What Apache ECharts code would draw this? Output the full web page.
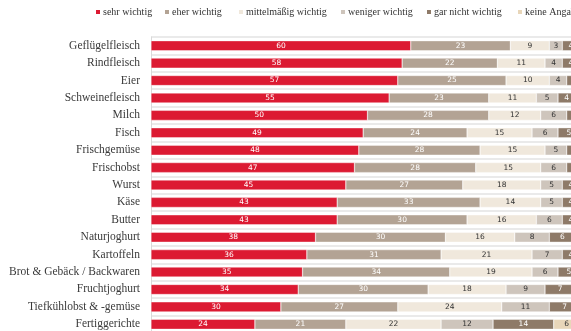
<!DOCTYPE html>
<html>
<head>
<meta charset="utf-8">
<script src="https://cdn.jsdelivr.net/npm/echarts@6/dist/echarts.min.js"></script>
<style>
    html, body { margin: 0; padding: 0; background: #fff; }
    #chart { width: 571px; height: 331px; }
</style>
</head>
<body>
<div id="chart"></div>
<script>
    var categories = ['Geflügelfleisch', 'Rindfleisch', 'Eier', 'Schweinefleisch', 'Milch', 'Fisch',
        'Frischgemüse', 'Frischobst', 'Wurst', 'Käse', 'Butter', 'Naturjoghurt', 'Kartoffeln',
        'Brot & Gebäck / Backwaren', 'Fruchtjoghurt', 'Tiefkühlobst & -gemüse', 'Fertiggerichte'];

    var sehrWichtig = [60, 58, 57, 55, 50, 49, 48, 47, 45, 43, 43, 38, 36, 35, 34, 30, 24];
    var eherWichtig = [23, 22, 25, 23, 28, 24, 28, 28, 27, 33, 30, 30, 31, 34, 30, 27, 21];
    var mittelWichtig = [9, 11, 10, 11, 12, 15, 15, 15, 18, 14, 16, 16, 21, 19, 18, 24, 22];
    var wenigerWichtig = [3, 4, 4, 5, 6, 6, 5, 6, 5, 5, 6, 8, 7, 6, 9, 11, 12];
    var garNichtWichtig = [4, 4, 3, 4, 3, 5, 3, 3, 4, 4, 4, 6, 4, 5, 7, 7, 14];
    var keineAngabe = [1, 1, 1, 2, 1, 1, 1, 1, 1, 1, 1, 2, 1, 1, 2, 1, 6];

    var seriesDefs = [
        { name: 'sehr wichtig', data: sehrWichtig, color: '#dc1a32', label: '#ffffff' },
        { name: 'eher wichtig', data: eherWichtig, color: '#b3a394', label: '#ffffff' },
        { name: 'mittelmäßig wichtig', data: mittelWichtig, color: '#f0e8dc', label: '#333333' },
        { name: 'weniger wichtig', data: wenigerWichtig, color: '#cec5bc', label: '#333333' },
        { name: 'gar nicht wichtig', data: garNichtWichtig, color: '#8e7a68', label: '#ffffff' },
        { name: 'keine Angabe', data: keineAngabe, color: '#e8d6b9', label: '#333333' }
    ];

    // x position of each legend item, as in the original layout
    var legendLeft = [94, 163, 237, 339, 425, 516];

    var chart = echarts.init(document.getElementById('chart'));

    var option = {
        animation: false,
        legend: seriesDefs.map(function (s, i) {
            return {
                left: legendLeft[i],
                top: 7,
                padding: 0,
                itemWidth: 6,
                itemHeight: 6,
                icon: 'rect',
                textStyle: { fontFamily: 'Liberation Serif', fontSize: 10, color: '#333', padding: [0, 0, 0, -3] },
                data: [s.name]
            };
        }),
        grid: { left: 151, top: 37, width: 433, height: 296, outerBoundsMode: 'none' },
        xAxis: {
            type: 'value',
            min: 0,
            max: 100,
            show: false
        },
        yAxis: {
            type: 'category',
            inverse: true,
            data: categories,
            axisLine: { show: true, lineStyle: { color: '#d9d9d9', width: 1 } },
            axisTick: { show: false },
            splitLine: { show: true, lineStyle: { color: '#e3e3e3', width: 1.5 } },
            axisLabel: {
                fontFamily: 'Liberation Serif',
                fontSize: 11.5,
                color: '#3a3a3a',
                margin: 11
            }
        },
        series: seriesDefs.map(function (s) {
            return {
                name: s.name,
                type: 'bar',
                stack: 'total',
                barWidth: 10,
                data: s.data,
                itemStyle: { color: s.color, borderColor: '#fff', borderWidth: 0.4 },
                label: {
                    show: true,
                    position: 'inside',
                    color: s.label,
                    fontFamily: 'DejaVu Sans',
                    fontSize: 7.5
                }
            };
        })
    };

    chart.setOption(option);
</script>
</body>
</html>
